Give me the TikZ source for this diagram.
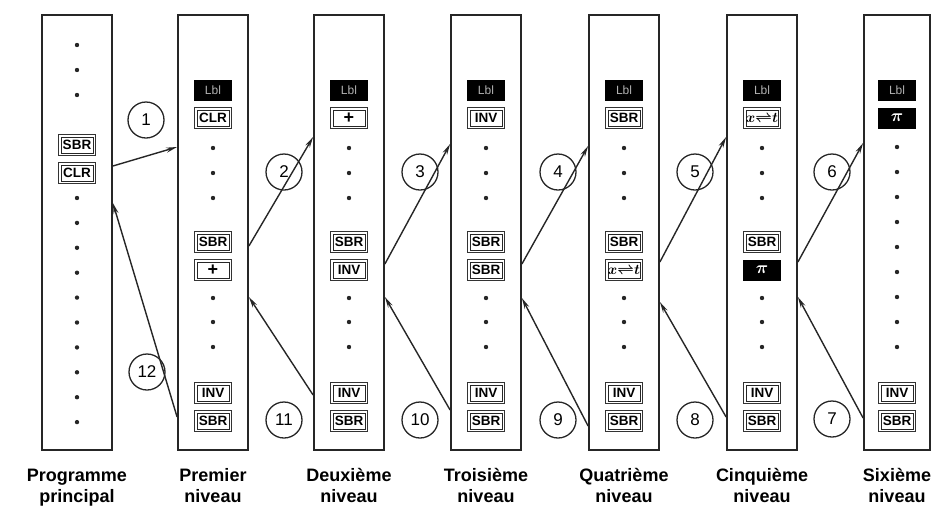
\documentclass[tikz,border=0pt]{standalone}
\usepackage{fontspec}
\setmainfont{Liberation Sans}
\usetikzlibrary{arrows.meta}
\begin{document}
\begin{tikzpicture}[x=1pt,y=-1pt,
  colbox/.style={draw=black!85, line width=1.8pt, minimum width=70pt, minimum height=435pt, inner sep=0pt},
  keybox/.style={draw=black!80, line width=1.1pt, fill=white,
    minimum width=37pt, minimum height=21pt, inner sep=0pt, font=\fontsize{13.5}{13.5}\selectfont\bfseries,
    path picture={\draw[black!85, line width=0.7pt]
      ([xshift=2.4pt,yshift=2.4pt]path picture bounding box.south west) rectangle
      ([xshift=-2.4pt,yshift=-2.4pt]path picture bounding box.north east);}},
  blackkey/.style={fill=black, minimum width=38pt, minimum height=21pt, inner sep=0pt, text=white,
    font=\fontsize{13}{13}\selectfont\bfseries},
  lblkey/.style={blackkey, text=black!30, font=\fontsize{12}{12}\selectfont},
  bigsym/.style={font=\fontsize{18}{18}\selectfont\bfseries},
  dotmark/.style={circle, fill=black!85, minimum size=4.4pt, inner sep=0pt},
  numcirc/.style={circle, draw=black!85, line width=1.3pt, minimum size=36pt, inner sep=0pt,
    font=\fontsize{17}{17}\selectfont},
  link/.style={line width=1.4pt, draw=black!85, -{Stealth[length=11pt,width=5pt]}},
  lab/.style={anchor=base, inner sep=0pt, font=\fontsize{18}{18}\selectfont\bfseries}
]
\useasboundingbox (0,0) rectangle (932,507);

% columns
\node[colbox] (c1) at (77,232.5) {};
\node[colbox] (c2) at (213,232.5) {};
\node[colbox] (c3) at (349,232.5) {};
\node[colbox] (c4) at (486,232.5) {};
\node[colbox] (c5) at (624,232.5) {};
\node[colbox] (c6) at (762,232.5) {};
\node[colbox, minimum width=66pt] (c7) at (897,232.5) {};

% main program column
\foreach \y [count=\k] in {45,70,95} \node[dotmark] (d1t-\k) at (77,\y) {};
\node[keybox] (sbr1) at (77,145) {SBR};
\node[keybox] (clr1) at (77,173) {CLR};
\foreach \k in {0,...,9} \node[dotmark] (d1b-\k) at (77,198+24.9*\k) {};

% levels 1 to 5
\foreach \c/\x in {2/213,3/349,4/486,5/624,6/762} {
  \node[lblkey] (lbl\c) at (\x,90) {Lbl};
  \foreach \y [count=\k] in {148,173,198,298,322,347} \node[dotmark] (d\c-\k) at (\x,\y) {};
  \node[keybox] (sa\c) at (\x,242) {SBR};
  \node[keybox] (inv\c) at (\x,393) {INV};
  \node[keybox] (sb\c) at (\x,421) {SBR};
}
\node[keybox] (ka2) at (213,118) {CLR};
\node[keybox, bigsym] (kb2) at (213,270) {+};
\node[keybox, bigsym] (ka3) at (349,118) {+};
\node[keybox] (kb3) at (349,270) {INV};
\node[keybox] (ka4) at (486,118) {INV};
\node[keybox] (kb4) at (486,270) {SBR};
\node[keybox] (ka5) at (624,118) {SBR};
\node[keybox, font=\fontsize{15}{15}\selectfont] (kb5) at (624,270) {{\boldmath$x{\rightleftharpoons}t$}};
\node[keybox, font=\fontsize{15}{15}\selectfont] (ka6) at (762,118) {{\boldmath$x{\rightleftharpoons}t$}};
\node[blackkey, bigsym] (kb6) at (762,270) {{\boldmath$\pi$}};

% level 6
\node[lblkey] (lbl7) at (897,90) {Lbl};
\node[blackkey, bigsym] (ka7) at (897,118) {{\boldmath$\pi$}};
\foreach \k in {0,...,8} \node[dotmark] (d7-\k) at (897,147+25*\k) {};
\node[keybox] (inv7) at (897,393) {INV};
\node[keybox] (sb7) at (897,421) {SBR};

% numbered circles
\node[numcirc] (n1) at (146,120) {1};
\node[numcirc] (n2) at (284,172) {2};
\node[numcirc] (n3) at (420,172) {3};
\node[numcirc] (n4) at (558,172) {4};
\node[numcirc] (n5) at (695,172) {5};
\node[numcirc] (n6) at (832,172) {6};
\node[numcirc] (n7) at (832,419) {7};
\node[numcirc] (n8) at (695,420) {8};
\node[numcirc] (n9) at (558,420) {9};
\node[numcirc] (n10) at (420,420) {10};
\node[numcirc] (n11) at (284,420) {11};
\node[numcirc] (n12) at (147,372) {12};

% calls
\draw[link] (c1.east |- 0,166) -- (c2.west |- 0,147);
\draw[link] (c2.east |- 0,246) -- (c3.west |- 0,137);
\draw[link] (c3.east |- 0,264) -- (c4.west |- 0,144);
\draw[link] (c4.east |- 0,264) -- (c5.west |- 0,146);
\draw[link] (c5.east |- 0,262) -- (c6.west |- 0,137);
\draw[link] (c6.east |- 0,262) -- (c7.west |- 0,143);

% returns
\draw[link] (c2.west |- 0,417) -- (c1.east |- 0,203);
\draw[link] (c3.west |- 0,395) -- (c2.east |- 0,297);
\draw[link] (c4.west |- 0,410) -- (c3.east |- 0,297);
\draw[link] (c5.west |- 0,426) -- (c4.east |- 0,298);
\draw[link] (c6.west |- 0,417) -- (c5.east |- 0,302);
\draw[link] (c7.west |- 0,418) -- (c6.east |- 0,297);

% captions
\node[lab] (t1a) at (77,481) {Programme};
\node[lab] (t1b) at (77,502) {principal};
\node[lab] (t2a) at (213,481) {Premier};
\node[lab] (t2b) at (213,502) {niveau};
\node[lab] (t3a) at (349,481) {Deuxième};
\node[lab] (t3b) at (349,502) {niveau};
\node[lab] (t4a) at (486,481) {Troisième};
\node[lab] (t4b) at (486,502) {niveau};
\node[lab] (t5a) at (624,481) {Quatrième};
\node[lab] (t5b) at (624,502) {niveau};
\node[lab] (t6a) at (762,481) {Cinquième};
\node[lab] (t6b) at (762,502) {niveau};
\node[lab] (t7a) at (897,481) {Sixième};
\node[lab] (t7b) at (897,502) {niveau};
\end{tikzpicture}
\end{document}
